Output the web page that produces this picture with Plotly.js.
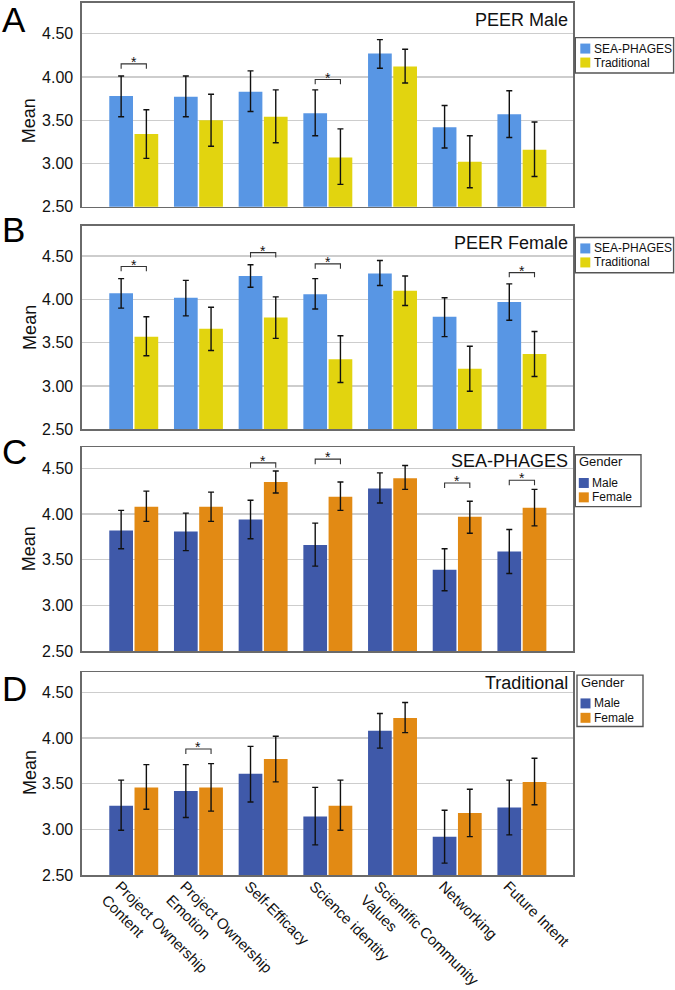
<!DOCTYPE html>
<html><head><meta charset="utf-8">
<script src="https://cdn.plot.ly/plotly-3.0.1.min.js"></script>
<style>html,body{margin:0;padding:0;background:#fff}#chart{width:675px;height:990px}</style>
</head><body><div id="chart"></div>
<script>
// ---------- DATA ----------
const categories = ["Project Ownership<br>Content", "Project Ownership<br>Emotion", "Self-Efficacy",
  "Science identity", "Scientific Community<br>Values", "Networking", "Future Intent"];
const panelLetters = ["A", "B", "C", "D"];
const panelTitles = ["PEER Male", "PEER Female", "SEA-PHAGES", "Traditional"];
const courseNames = ["SEA-PHAGES", "Traditional"];
const genderNames = ["Male", "Female"];
const genderLegendTitle = "Gender";
const yAxisTitle = "Mean";
const yTickVals = [2.5, 3.0, 3.5, 4.0, 4.5];
const yTickText = ["2.50", "3.00", "3.50", "4.00", "4.50"];

// Panel A: PEER Male
const aSeaMean = [3.78, 3.77, 3.83, 3.58, 4.27, 3.42, 3.57];
const aSeaHi   = [4.01, 4.01, 4.07, 3.85, 4.43, 3.67, 3.84];
const aSeaLo   = [3.54, 3.54, 3.60, 3.32, 4.10, 3.18, 3.30];
const aTradMean = [3.34, 3.50, 3.54, 3.07, 4.12, 3.02, 3.16];
const aTradHi   = [3.62, 3.80, 3.85, 3.40, 4.32, 3.32, 3.48];
const aTradLo   = [3.06, 3.20, 3.24, 2.76, 3.93, 2.72, 2.85];
// Panel B: PEER Female
const bSeaMean = [4.07, 4.02, 4.27, 4.06, 4.30, 3.80, 3.97];
const bSeaHi   = [4.24, 4.22, 4.40, 4.24, 4.45, 4.02, 4.18];
const bSeaLo   = [3.90, 3.81, 4.14, 3.89, 4.16, 3.57, 3.76];
const bTradMean = [3.57, 3.66, 3.79, 3.31, 4.10, 3.20, 3.37];
const bTradHi   = [3.80, 3.91, 4.03, 3.58, 4.27, 3.46, 3.63];
const bTradLo   = [3.35, 3.41, 3.55, 3.04, 3.93, 2.94, 3.11];
// Panel C: SEA-PHAGES by gender
const cMaleMean = [3.82, 3.81, 3.94, 3.66, 4.28, 3.39, 3.59];
const cMaleHi   = [4.04, 4.01, 4.15, 3.90, 4.45, 3.62, 3.83];
const cMaleLo   = [3.62, 3.60, 3.73, 3.43, 4.12, 3.16, 3.35];
const cFemMean  = [4.08, 4.08, 4.35, 4.19, 4.39, 3.97, 4.07];
const cFemHi    = [4.25, 4.24, 4.47, 4.35, 4.53, 4.14, 4.27];
const cFemLo    = [3.92, 3.92, 4.23, 4.04, 4.27, 3.79, 3.87];
// Panel D: Traditional by gender
const dMaleMean = [3.26, 3.42, 3.61, 3.14, 4.08, 2.92, 3.24];
const dMaleHi   = [3.54, 3.71, 3.91, 3.46, 4.27, 3.21, 3.54];
const dMaleLo   = [2.99, 3.13, 3.30, 2.83, 3.89, 2.63, 2.94];
const dFemMean  = [3.46, 3.46, 3.77, 3.26, 4.22, 3.18, 3.52];
const dFemHi    = [3.71, 3.72, 4.02, 3.54, 4.39, 3.44, 3.78];
const dFemLo    = [3.22, 3.20, 3.52, 2.99, 4.06, 2.92, 3.27];

// significance brackets: category index and bracket level
const sigA = [0, 3];        const sigALevel = [4.15, 3.97];
const sigB = [0, 2, 3, 6];  const sigBLevel = [4.38, 4.54, 4.41, 4.31];
const sigC = [2, 3, 5, 6];  const sigCLevel = [4.56, 4.60, 4.34, 4.37];
const sigD = [1];           const sigDLevel = [3.88];

// ---------- STYLE ----------
const FONT = "Liberation Sans, Arial, Helvetica, sans-serif";
const colSea = "#5896e4", colTrad = "#e2d40f", colMale = "#3f59a9", colFem = "#e28a14";
const W = 675, H = 990;
const L = 81.7, R = 572.7, T = 2.7, B = 875.3;     // pixel frame of plotting region
const BARGAP = 0.22, GROUPGAP = 0.06;
const px = x => (x - L) / (R - L);
const py = y => (B - y) / (B - T);
const panelPx = [[2.7, 206.7], [225.5, 429.3], [447.3, 651.3], [672.3, 875.3]];
const yRanges = [[2.5, 4.853], [2.5, 4.852], [2.5, 4.73], [2.5, 4.723]];
const xIdx = categories.map((c, i) => i);

const panels = [
  {s: [[aSeaMean, aSeaHi, aSeaLo], [aTradMean, aTradHi, aTradLo]], names: courseNames, cols: [colSea, colTrad], sig: sigA, lev: sigALevel},
  {s: [[bSeaMean, bSeaHi, bSeaLo], [bTradMean, bTradHi, bTradLo]], names: courseNames, cols: [colSea, colTrad], sig: sigB, lev: sigBLevel},
  {s: [[cMaleMean, cMaleHi, cMaleLo], [cFemMean, cFemHi, cFemLo]], names: genderNames, cols: [colMale, colFem], sig: sigC, lev: sigCLevel},
  {s: [[dMaleMean, dMaleHi, dMaleLo], [dFemMean, dFemHi, dFemLo]], names: genderNames, cols: [colMale, colFem], sig: sigD, lev: sigDLevel},
];

const traces = [], shapes = [], annotations = [];
const layout = {
  width: W, height: H, margin: {l: L, r: W - R, t: T, b: H - B, pad: 0},
  paper_bgcolor: "#fff", plot_bgcolor: "#fff", showlegend: false,
  barmode: "group", bargap: BARGAP, bargroupgap: GROUPGAP,
  font: {family: FONT, color: "#111", size: 16},
  shapes, annotations
};
const off = (1 - BARGAP) / 4;

panels.forEach((p, k) => {
  const n = k === 0 ? "" : String(k + 1);
  const xa = "x" + n, ya = "y" + n;
  p.s.forEach((ser, j) => {
    const [m, hi, lo] = ser;
    traces.push({
      type: "bar", name: p.names[j], x: xIdx, y: m, xaxis: xa, yaxis: ya,
      marker: {color: p.cols[j], line: {width: 0}},
      error_y: {type: "data", symmetric: false,
        array: hi.map((v, i) => v - m[i]), arrayminus: lo.map((v, i) => m[i] - v),
        color: "#111", thickness: 1.4, width: 3},
      hoverinfo: "skip"
    });
  });
  const dom = [py(panelPx[k][1]), py(panelPx[k][0])];
  layout["xaxis" + n] = {
    domain: [0, 1], anchor: ya, range: [-0.8, 6.79], tickmode: "array", tickvals: xIdx, ticktext: categories,
    showticklabels: k === 3, tickangle: 45, ticks: "", showline: true, mirror: true,
    linecolor: "#6a6a6a", linewidth: 1.6, showgrid: false, zeroline: false,
    ticklabelshift: -14, ticklabelstandoff: -5,
    tickfont: {family: FONT, size: 15, color: "#111"}, automargin: false, fixedrange: true
  };
  layout["yaxis" + n] = {
    domain: dom, anchor: xa, range: yRanges[k], tickmode: "array", tickvals: yTickVals, ticktext: yTickText,
    showgrid: true, gridcolor: "#cdcdcd", gridwidth: 1.4, showline: true, mirror: true,
    linecolor: "#6a6a6a", linewidth: 1.6, ticks: "", zeroline: false, ticklabelstandoff: 4,
    tickfont: {family: FONT, size: 16, color: "#111"}, automargin: false, fixedrange: true
  };
  // significance brackets
  const d = 0.055;
  p.sig.forEach((c, i) => {
    const y = p.lev[i], x0 = c - off, x1 = c + off;
    shapes.push({type: "path", xref: xa, yref: ya,
      path: `M ${x0},${y - d} L ${x0},${y} L ${x1},${y} L ${x1},${y - d}`,
      line: {color: "#333", width: 1.1}});
    annotations.push({xref: xa, yref: ya, x: c, y: y, text: "*", showarrow: false,
      yanchor: "bottom", yshift: -8, font: {family: FONT, size: 14, color: "#111"}});
  });
  // panel title
  const titleBase = [26, 249, 467, 690][k];
  annotations.push({xref: "paper", yref: "paper", x: px(569.5), y: py(titleBase - 6.4),
    xanchor: "right", yanchor: "middle", text: panelTitles[k], showarrow: false,
    font: {family: FONT, size: 18, color: "#111"}});
  // panel letter
  annotations.push({xref: "paper", yref: "paper", x: px(0), y: py([19.3, 229.2, 451.7, 688.3][k]),
    xanchor: "left", yanchor: "middle", text: panelLetters[k], showarrow: false,
    font: {family: FONT, size: 35, color: "#000"}});
  // y title
  annotations.push({xref: "paper", yref: "paper", x: px(29), y: py([120.8, 327.5, 549, 773][k]),
    xanchor: "center", yanchor: "middle", text: yAxisTitle, textangle: -90, showarrow: false,
    font: {family: FONT, size: 18, color: "#111"}});

  // legend (drawn as boxed key to match the compact original)
  const hasTitle = k >= 2;
  const box = [[575, 37.3, 673.3, 72.7], [575, 237.3, 673.3, 272.7], [575, 454.7, 640.7, 506.7], [576.7, 675.3, 642.7, 726.7]][k];
  shapes.push({type: "rect", xref: "paper", yref: "paper", x0: px(box[0]), x1: px(box[2]), y0: py(box[3]), y1: py(box[1]),
    line: {color: "#555", width: 1.4}, fillcolor: "#fff", layer: "above"});
  let rowTops, swL, txL;
  if (hasTitle) {
    annotations.push({xref: "paper", yref: "paper", x: px(box[0] + 2), y: py(box[1] + 7),
      xanchor: "left", yanchor: "middle", text: genderLegendTitle, showarrow: false,
      font: {family: FONT, size: 13, color: "#111"}});
    rowTops = [23.3, 37.7]; swL = 3.5; txL = 14.5;
  } else {
    rowTops = [6, 20]; swL = 5; txL = 17;
  }
  p.names.forEach((nm, j) => {
    const t = box[1] + rowTops[j];
    shapes.push({type: "rect", xref: "paper", yref: "paper", x0: px(box[0] + swL), x1: px(box[0] + swL + 10),
      y0: py(t + 10), y1: py(t), line: {width: 0}, fillcolor: p.cols[j], layer: "above"});
    annotations.push({xref: "paper", yref: "paper", x: px(box[0] + txL), y: py(t + 5),
      xanchor: "left", yanchor: "middle", text: nm, showarrow: false,
      font: {family: FONT, size: 12, color: "#111"}});
  });
});

Plotly.newPlot("chart", traces, layout, {staticPlot: true, displayModeBar: false});
</script>
</body></html>
